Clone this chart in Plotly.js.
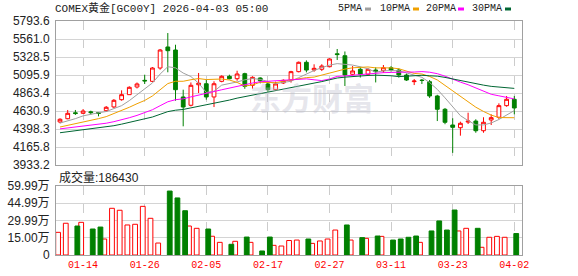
<!DOCTYPE html>
<html><head><meta charset="utf-8">
<script src="https://cdn.plot.ly/plotly-3.0.1.min.js"></script>
<style>html,body{margin:0;padding:0;background:#fff;overflow:hidden}#chart{width:578px;height:276px}</style>
</head><body><div id="chart"></div>
<script>
const chartTitle = 'COMEX黄金[GC00Y] 2026-04-03 05:00';
const dates = ['01-09','01-12','01-13','01-14','01-15','01-16','01-19','01-20','01-21','01-22','01-23','01-26','01-27','01-28','01-29','01-30','02-02','02-03','02-04','02-05','02-06','02-09','02-10','02-11','02-12','02-13','02-16','02-17','02-18','02-19','02-20','02-23','02-24','02-25','02-26','02-27','03-02','03-03','03-04','03-05','03-06','03-09','03-10','03-11','03-12','03-13','03-16','03-17','03-18','03-19','03-20','03-23','03-24','03-25','03-26','03-27','03-30','03-31','04-01','04-02'];
const open  = [4489,4531,4608,4601,4620,4612,4635,4683,4777,4842,4941,5027,5014,5186,5458,5419,4812,4705,4970,4983,4812,5014,5079,5048,5113,4963,5057,4980,4906,4993,5031,5139,5260,5160,5170,5203,5370,5345,5105,5170,5105,5160,5151,5190,5160,5096,5010,5030,5009,4825,4653,4450,4415,4488,4501,4376,4515,4550,4700,4782];
const high  = [4537,4644,4644,4656,4635,4618,4695,4785,4898,4950,4999,5100,5199,5432,5638,5487,4906,5000,5122,5035,5015,5092,5100,5151,5125,5079,5066,4997,5010,5040,5150,5270,5285,5234,5235,5310,5432,5400,5212,5202,5182,5195,5225,5212,5182,5115,5044,5044,5031,4840,4670,4537,4493,4609,4524,4550,4588,4730,4825,4825];
const low   = [4472,4524,4580,4592,4585,4562,4620,4670,4764,4842,4922,4980,5005,5164,5131,4764,4433,4690,4863,4777,4682,5002,5040,5022,4918,4920,4988,4880,4890,4980,4998,5130,5130,5138,5147,5195,5290,4954,5092,5063,5090,5000,5125,5140,5063,5020,4966,4980,4800,4501,4460,4090,4312,4463,4350,4350,4450,4528,4686,4588];
const close = [4524,4601,4598,4631,4610,4600,4679,4769,4842,4937,4980,5020,5186,5419,5410,4906,4682,4963,4990,4812,4983,5079,5048,5109,4950,5066,5022,4906,4980,5027,5139,5260,5160,5182,5212,5303,5360,5096,5148,5105,5170,5139,5190,5160,5096,5031,5018,5025,4825,4653,4485,4420,4472,4500,4376,4485,4545,4700,4782,4670];
const volume = [197000,276000,252000,284000,226000,243000,139000,406000,389000,261000,267000,423000,319000,104000,556000,496000,385000,252000,232000,226000,163000,110000,93000,119000,156000,110000,35000,156000,84000,78000,126000,130000,139000,101000,122000,139000,217000,261000,130000,151000,145000,165000,162000,130000,139000,154000,165000,110000,209000,296000,217000,391000,209000,232000,232000,67000,154000,162000,154000,186430];
const ma5  = [4475,4500,4532,4568,4593,4608,4624,4658,4700,4765,4841,4910,4993,5108,5203,5188,5121,5076,4990,4871,4886,4965,4982,5006,5034,5050,5039,5011,4985,5000,5015,5062,5113,5154,5191,5223,5243,5231,5224,5202,5176,5132,5150,5153,5151,5123,5099,5066,4999,4910,4801,4682,4571,4506,4451,4451,4476,4521,4578,4636];
const ma10 = [4424,4444,4466,4488,4510,4532,4558,4595,4635,4679,4725,4767,4825,4904,4985,5015,5015,5035,5050,5037,5038,5044,5031,5000,4953,4968,5002,4997,4996,5017,5033,5051,5062,5069,5095,5119,5153,5172,5189,5197,5200,5188,5191,5188,5177,5150,5116,5109,5077,5032,4963,4890,4818,4752,4680,4625,4578,4546,4542,4544];
const ma20 = [4400,4411,4422,4435,4447,4458,4473,4493,4516,4544,4574,4606,4647,4699,4750,4777,4788,4813,4839,4857,4882,4905,4928,4952,4969,4992,5009,5016,5023,5028,5036,5048,5046,5034,5024,5044,5078,5084,5092,5107,5116,5119,5126,5129,5136,5134,5134,5140,5132,5113,5081,5039,5004,4970,4928,4887,4847,4827,4808,4787];
const ma30 = [4350,4362,4373,4386,4398,4410,4424,4441,4461,4484,4504,4526,4553,4588,4623,4641,4651,4671,4691,4706,4726,4750,4772,4797,4816,4839,4858,4873,4890,4909,4932,4954,4973,4991,5011,5034,5057,5068,5078,5084,5090,5094,5094,5086,5075,5079,5090,5092,5086,5081,5065,5043,5023,5003,4984,4965,4949,4942,4935,4923];
const dateTicks = ['01-14','01-26','02-05','02-17','02-27','03-11','03-23','04-02'];
const priceTicks = [3933.2,4165.75,4398.3,4630.85,4863.4,5095.95,5328.5,5561.05,5793.6];
const priceTickText = ['3933.2','4165.8','4398.3','4630.9','4863.4','5095.9','5328.5','5561.0','5793.6'];
const volTicks = [0,149975,299950,449925,599900];
const volTickText = ['0','15.00万','29.99万','44.99万','59.99万'];
const maNames = ['5PMA','10PMA','20PMA','30PMA'];
const maColors = ['#a0a0a0','#f0a000','#ff00ff','#006633'];
const RED='#ff0000', GREEN='#008000';

const upVol = volume.map((v,i)=> (i===0 || close[i]>=close[i-1]) ? v : null);
const dnVol = volume.map((v,i)=> (i===0 || close[i]>=close[i-1]) ? null : v);

const traces = [
  {type:'candlestick', x:dates, open:open, high:high, low:low, close:close, xaxis:'x', yaxis:'y',
   increasing:{line:{color:RED,width:1}, fillcolor:'#ffffff'},
   decreasing:{line:{color:GREEN,width:1}, fillcolor:GREEN},
   whiskerwidth:0, hoverinfo:'skip'},
];
[ma5,ma10,ma20,ma30].forEach((m,k)=>traces.push({type:'scatter',mode:'lines',x:dates,y:m,xaxis:'x',yaxis:'y',
  line:{color:maColors[k],width:1},hoverinfo:'skip'}));
traces.push({type:'bar',x:dates,y:upVol,xaxis:'x2',yaxis:'y2',width:0.62,
  marker:{color:'#ffffff',line:{color:RED,width:1}},hoverinfo:'skip'});
traces.push({type:'bar',x:dates,y:dnVol,xaxis:'x2',yaxis:'y2',width:0.62,
  marker:{color:GREEN,line:{color:GREEN,width:1}},hoverinfo:'skip'});

const L=56, R=522, T=21, B=255, W=R-L, H=B-T;
const px = X => (X-L)/W, py = Y => (B-Y)/H;

const annotations = [
  {text:chartTitle, xref:'paper', yref:'paper', x:px(54), y:py(8.5), xanchor:'left', yanchor:'middle', showarrow:false, borderpad:0,
   font:{family:'Liberation Mono, Noto Sans CJK SC', size:11, color:'#222'}},
  {text:'成交量:'+volume[volume.length-1], xref:'paper', yref:'paper', x:px(57), y:py(177), xanchor:'left', yanchor:'middle', showarrow:false,
   font:{family:'Liberation Sans, Noto Sans CJK SC', size:12, color:'#222'}},
  {text:'东方财富', xref:'paper', yref:'paper', x:px(312), y:py(96), xanchor:'center', yanchor:'middle', showarrow:false,
   font:{family:'Noto Sans CJK SC', size:31, color:'rgba(190,190,205,0.38)', weight:'bold'}},
];
const legX = [337,379,425,471], markX = [365,413,458,505];
const shapes = [];
maNames.forEach((n,k)=>{
  annotations.push({text:n, xref:'paper', yref:'paper', x:px(legX[k]), y:py(9), xanchor:'left', yanchor:'middle', showarrow:false, borderpad:0,
    font:{family:'Liberation Mono', size:10, color:'#222'}});
  shapes.push({type:'rect', xref:'paper', yref:'paper', x0:px(markX[k]), x1:px(markX[k]+6), y0:py(10.5), y1:py(7.5),
    fillcolor:maColors[k], line:{width:0}});
});

const gridDash = {showgrid:true, gridcolor:'#cccccc', griddash:'dash', gridwidth:1};
const layout = {
  width:578, height:276, margin:{l:L, r:578-R, t:T, b:276-B, pad:0},
  paper_bgcolor:'#ffffff', plot_bgcolor:'#ffffff', showlegend:false, bargap:0,
  xaxis:Object.assign({type:'category', domain:[0,1], anchor:'y', range:[-0.52,60], tickmode:'array', tickvals:dateTicks,
    showticklabels:false, ticks:'', showline:true, mirror:true, linecolor:'#a0a0a0', linewidth:1, zeroline:false,
    rangeslider:{visible:false}, fixedrange:true}, gridDash),
  yaxis:{domain:[py(165),1], range:[3933.2,5793.6], anchor:'x', tickmode:'array', tickvals:priceTicks, ticktext:priceTickText,
    showgrid:true, gridcolor:'#d4d4d4', gridwidth:1, showline:true, mirror:true, linecolor:'#a0a0a0', zeroline:false, ticks:'',
    tickfont:{family:'Liberation Sans', size:12, color:'#222'}, ticklabelstandoff:3},
  xaxis2:Object.assign({type:'category', domain:[0,1], anchor:'y2', range:[-0.52,60], tickmode:'array', tickvals:dateTicks,
    ticktext:dateTicks, ticks:'', showline:true, mirror:true, linecolor:'#a0a0a0', linewidth:1, zeroline:false,
    tickfont:{family:'Liberation Mono', size:10, color:RED}, fixedrange:true}, gridDash),
  yaxis2:{domain:[0,py(186)], range:[0,599900], anchor:'x2', tickmode:'array', tickvals:volTicks, ticktext:volTickText,
    showgrid:true, gridcolor:'#d4d4d4', gridwidth:1, showline:true, mirror:true, linecolor:'#a0a0a0', zeroline:false, ticks:'',
    tickfont:{family:'Liberation Sans, Noto Sans CJK SC', size:12, color:'#222'}, ticklabelstandoff:3},
  annotations:annotations, shapes:shapes
};
Plotly.newPlot('chart', traces, layout, {staticPlot:true, displayModeBar:false});
</script></body></html>
